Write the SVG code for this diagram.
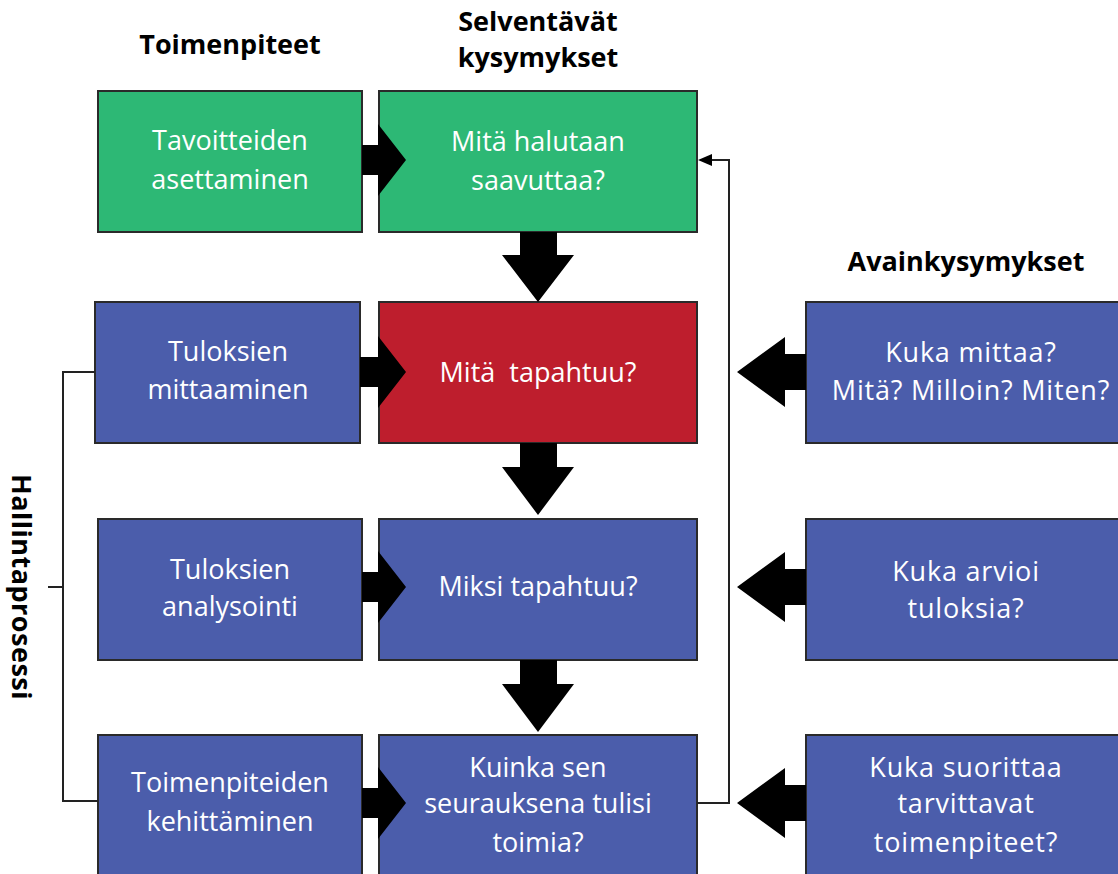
<svg xmlns="http://www.w3.org/2000/svg" width="1118" height="874" viewBox="0 0 1118 874">
<style>
.box{stroke:#2a2a2a;stroke-width:2}
.g{fill:#2db875}.b{fill:#4b5dab}.r{fill:#be1e2d}
.t{font-family:"Open Sans","Liberation Sans",sans-serif;font-size:27px;fill:#fff;text-anchor:middle}
.w{letter-spacing:0.8px}
.h{font-family:"Open Sans","Liberation Sans",sans-serif;font-size:27px;font-weight:bold;fill:#000;text-anchor:middle}
.ba{fill:#000}
.ln{fill:none;stroke:#222;stroke-width:2}
</style>
<rect width="1118" height="874" fill="#fff"/>
<g id="headers">
<text class="h" x="230" y="54">Toimenpiteet</text>
<text class="h" x="538" y="31">Selventävät</text>
<text class="h" x="538" y="67">kysymykset</text>
<text class="h" x="966" y="271">Avainkysymykset</text>
<text class="h" transform="translate(12,587) rotate(90)" x="0" y="0" style="letter-spacing:0.5px">Hallintaprosessi</text>
</g>
<g id="a1"><rect class="box g" x="98" y="91" width="264" height="141"/>
<text class="t" x="230" y="150">Tavoitteiden</text><text class="t" x="230" y="189">asettaminen</text></g>
<g id="b1"><rect class="box g" x="379" y="91" width="318" height="141"/>
<text class="t" x="538" y="151">Mitä halutaan</text><text class="t" x="538" y="190">saavuttaa?</text></g>
<g id="a2"><rect class="box b" x="95" y="302" width="265" height="141"/>
<text class="t" x="228" y="361">Tuloksien</text><text class="t" x="228" y="399">mittaaminen</text></g>
<g id="b2"><rect class="box r" x="379" y="302" width="318" height="141"/>
<text class="t" x="538" y="382" xml:space="preserve">Mitä  tapahtuu?</text></g>
<g id="c2"><rect class="box b" x="806" y="302" width="318" height="141"/>
<text class="t w" x="971" y="362">Kuka mittaa?</text><text class="t w" x="971" y="400">Mitä? Milloin? Miten?</text></g>
<g id="a3"><rect class="box b" x="98" y="519" width="264" height="141"/>
<text class="t" x="230" y="579">Tuloksien</text><text class="t" x="230" y="616">analysointi</text></g>
<g id="b3"><rect class="box b" x="379" y="519" width="318" height="141"/>
<text class="t" x="538" y="596">Miksi tapahtuu?</text></g>
<g id="c3"><rect class="box b" x="806" y="519" width="318" height="141"/>
<text class="t w" x="966" y="581">Kuka arvioi</text><text class="t w" x="966" y="618">tuloksia?</text></g>
<g id="a4"><rect class="box b" x="98" y="735" width="264" height="150"/>
<text class="t" x="230" y="792">Toimenpiteiden</text><text class="t" x="230" y="831">kehittäminen</text></g>
<g id="b4"><rect class="box b" x="379" y="735" width="318" height="150"/>
<text class="t" x="538" y="777">Kuinka sen</text><text class="t" x="538" y="813">seurauksena tulisi</text><text class="t" x="538" y="852">toimia?</text></g>
<g id="c4"><rect class="box b" x="806" y="735" width="318" height="150"/>
<text class="t w" x="966" y="777">Kuka suorittaa</text><text class="t w" x="966" y="813">tarvittavat</text><text class="t w" x="966" y="852">toimenpiteet?</text></g>
<g id="connectors">
<polyline class="ln" points="95,372 63,372 63,801 98,801"/>
<line class="ln" x1="48" y1="587" x2="63" y2="587"/>
<polyline class="ln" points="697,803 729,803 729,160 710,160"/>
<polygon class="ba" points="698,160 712,154 712,166"/>
<polygon class="ba" points="362,145 378,145 378,124 406,160 378,196 378,175 362,175"/>
<polygon class="ba" points="360,357 378,357 378,336 406,372 378,408 378,387 360,387"/>
<polygon class="ba" points="362,572 378,572 378,551 406,587 378,623 378,602 362,602"/>
<polygon class="ba" points="362,788 378,788 378,767 406,803 378,839 378,818 362,818"/>
<polygon class="ba" points="520,232 557,232 557,255 574,255 538,302 502,255 520,255"/>
<polygon class="ba" points="520,443 557,443 557,467 574,467 538,515 502,467 520,467"/>
<polygon class="ba" points="520,660 557,660 557,684 574,684 538,732 502,684 520,684"/>
<polygon class="ba" points="806,354 785,354 785,337 737,372 785,407 785,390 806,390"/>
<polygon class="ba" points="806,569 785,569 785,552 737,587 785,622 785,605 806,605"/>
<polygon class="ba" points="806,785 785,785 785,768 737,803 785,838 785,821 806,821"/>
</g>
</svg>
